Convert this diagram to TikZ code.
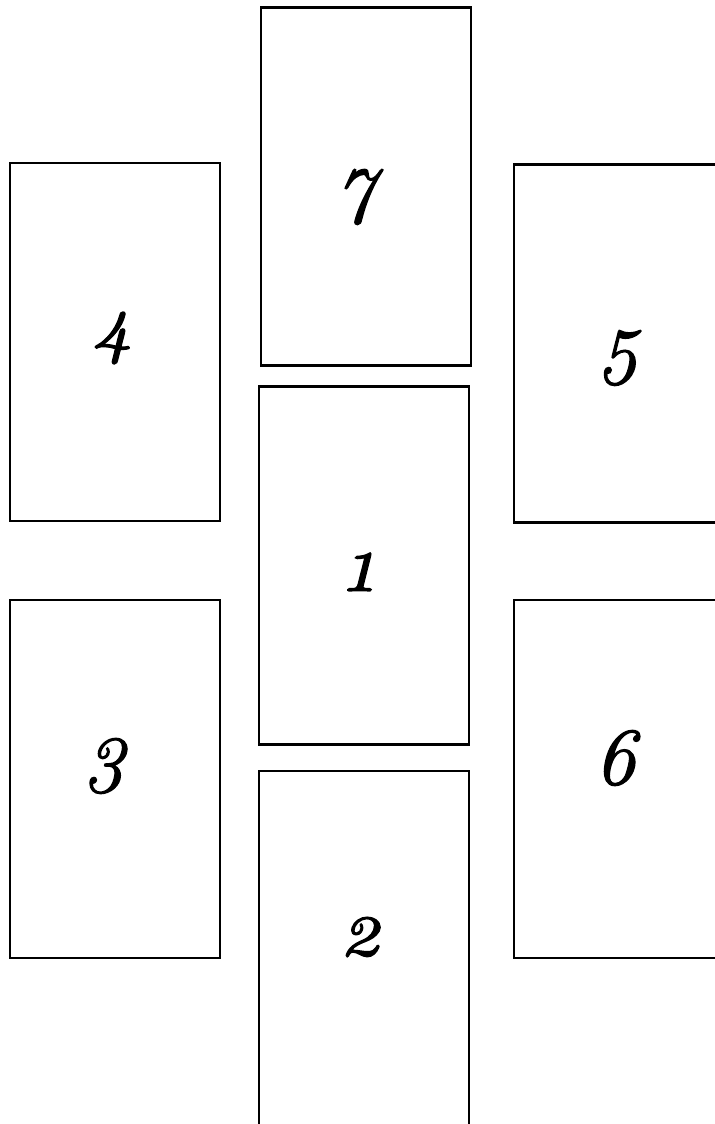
\documentclass[tikz,border=0pt]{standalone}
\usepackage{fontspec}
\newfontfamily\cardfont{Latin Modern Roman}[Numbers=OldStyle, ItalicFeatures={FakeBold=1.6}]
\usepackage{tikz}
\usetikzlibrary{positioning}

\begin{document}
\begin{tikzpicture}[
    x=0.02cm, y=-0.02cm,
    card/.style={draw=black, line width=1.3pt, fill=white,
                 minimum width=4.2cm, minimum height=7.16cm, inner sep=0pt},
    num/.style={font=\fontsize{46}{46}\cardfont\itshape, inner sep=0pt},
]
\useasboundingbox (0,0) rectangle (715,1124);

% ===== centre column =====
\node[card] (b7) at (366,186.5) {};
\node[card] (b1) at (364,565.5) {};
\node[card] (b2) at (364,950) {};

% ===== left column =====
\node[card] (b4) at (115,342) {};
\node[card] (b3) at (115,779) {};

% ===== right column (cut by the page edge) =====
\node[card] (b5) at (619,343.5) {};
\node[card] (b6) at (619,779) {};

% card numbers
\node[num] (n7) at (357,197) {7};
\node[num] (n1) at (359,572) {1};
\node[num] (n2) at (361,937) {2};
\node[num] (n4) at (112,338) {4};
\node[num] (n3) at (106,766) {3};
\node[num] (n5) at (620,358) {5};
\node[num] (n6) at (615,758) {6};

\end{tikzpicture}
\end{document}
